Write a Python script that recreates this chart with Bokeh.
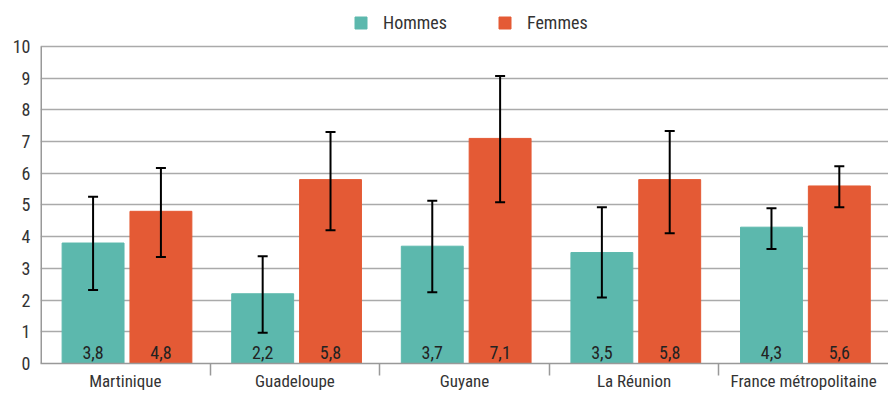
from bokeh.plotting import figure
from bokeh.models import (ColumnDataSource, FixedTicker, Whisker, Legend, LegendItem,
                          Range1d)
from bokeh.core.properties import value
from bokeh.embed import file_html
from bokeh.resources import INLINE

regions = ["Martinique", "Guadeloupe", "Guyane", "La Réunion", "France métropolitaine"]
hommes = [3.8, 2.2, 3.7, 3.5, 4.3]
femmes = [4.8, 5.8, 7.1, 5.8, 5.6]
hommes_low = [2.32, 0.97, 2.25, 2.08, 3.61]
hommes_high = [5.26, 3.38, 5.13, 4.93, 4.90]
femmes_low = [3.36, 4.20, 5.09, 4.11, 4.93]
femmes_high = [6.17, 7.30, 9.07, 7.33, 6.22]
labels_h = ["3,8", "2,2", "3,7", "3,5", "4,3"]
labels_f = ["4,8", "5,8", "7,1", "5,8", "5,6"]
y_ticks = list(range(0, 11))

TEAL = "#5cb8ad"
ORANGE = "#e45a35"
GRID = "#aaaaaa"
FONT = "'Liberation Sans Narrow', 'Roboto Condensed', 'DejaVu Sans Condensed', sans-serif"

n = len(regions)
idx = list(range(n))
xh = [i + 0.31 for i in idx]
xf = [i + 0.71 for i in idx]

src_h = ColumnDataSource(dict(x=xh, top=hommes, lo=hommes_low, hi=hommes_high, lab=labels_h))
src_f = ColumnDataSource(dict(x=xf, top=femmes, lo=femmes_low, hi=femmes_high, lab=labels_f))

p = figure(width=888, height=393, output_backend="svg", toolbar_location=None,
           x_range=Range1d(0, n), y_range=Range1d(0, 11.45),
           min_border_left=40, min_border_right=0, min_border_top=0, min_border_bottom=30)
p.outline_line_color = None
p.background_fill_color = "white"

rh = p.vbar(x="x", top="top", width=0.365, source=src_h, color=TEAL)
rf = p.vbar(x="x", top="top", width=0.365, source=src_f, color=ORANGE)

for src in (src_h, src_f):
    w = Whisker(source=src, base="x", lower="lo", upper="hi", line_color="black",
                line_width=2, level="overlay")
    for h in (w.upper_head, w.lower_head):
        h.size = 10
        h.line_width = 2
        h.line_color = "black"
    p.add_layout(w)

for src in (src_h, src_f):
    p.text(x="x", y=0, text="lab", source=src, text_align="center", text_baseline="bottom",
           y_offset=-5, text_font=value(FONT), text_font_size="18px", text_color="#222222")

# left axis line drawn only up to the top tick
p.segment(x0=[0], y0=[y_ticks[0]], x1=[0], y1=[y_ticks[-1]], line_color="#999999", line_width=3)

# axes
p.xaxis.ticker = FixedTicker(ticks=[i + 0.5 for i in idx], minor_ticks=[1, 2, 3, 4])
p.xaxis.major_label_overrides = {i + 0.5: r for i, r in enumerate(regions)}
p.xaxis.major_tick_line_color = None
p.xaxis.major_tick_out = 0
p.xaxis.major_tick_in = 0
p.xaxis.minor_tick_out = 12
p.xaxis.minor_tick_in = 0
p.xaxis.minor_tick_line_color = "#999999"
p.xaxis.minor_tick_line_width = 1.5
p.xaxis.axis_line_color = "#999999"
p.xaxis.axis_line_width = 1.5
p.xaxis.major_label_standoff = -5
p.xaxis.major_label_text_font = FONT
p.xaxis.major_label_text_font_size = "17px"
p.xaxis.major_label_text_color = "#333333"

p.yaxis.ticker = FixedTicker(ticks=y_ticks)
p.yaxis.major_tick_out = 0
p.yaxis.major_tick_in = 0
p.yaxis.minor_tick_line_color = None
p.yaxis.axis_line_color = None
p.yaxis.major_label_standoff = 10
p.yaxis.major_label_text_font = FONT
p.yaxis.major_label_text_font_size = "18px"
p.yaxis.major_label_text_color = "#333333"

p.xgrid.grid_line_color = None
p.ygrid.ticker = FixedTicker(ticks=y_ticks[1:])
p.ygrid.grid_line_color = GRID
p.ygrid.grid_line_width = 1.5

legend = Legend(items=[LegendItem(label="Hommes", renderers=[rh]),
                       LegendItem(label="Femmes", renderers=[rf])],
                orientation="horizontal", location=(313, 330),
                glyph_width=15, glyph_height=15, spacing=50, label_standoff=15,
                label_text_font=FONT, label_text_font_size="18px",
                label_text_color="#333333", border_line_color=None,
                background_fill_alpha=0, padding=0, margin=0)
p.add_layout(legend, "center")

open("out.html", "w").write(file_html(p, INLINE))
